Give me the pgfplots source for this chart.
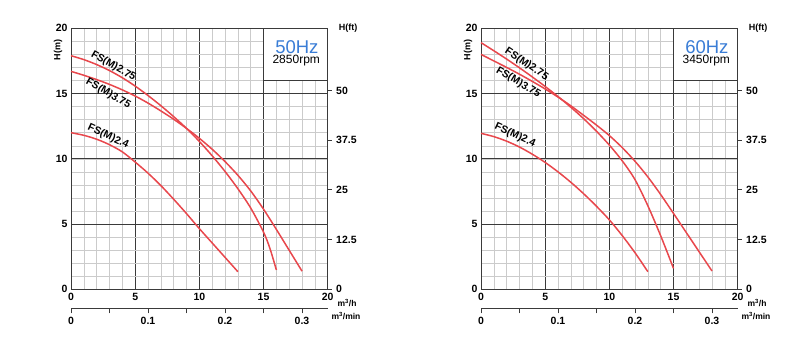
\documentclass[border=0pt]{standalone}
\usepackage{fontspec}
\setmainfont{Liberation Sans}
\usepackage{pgfplots}
\pgfplotsset{compat=1.18}
\definecolor{curve}{HTML}{E8474C}
\definecolor{hzblue}{HTML}{3A7DD6}
\definecolor{majgrid}{HTML}{3A3A3A}
\definecolor{mingrid}{HTML}{CBCBCB}
\newcommand{\tl}{\fontsize{10.5}{12}\selectfont\bfseries}
\pgfplotsset{
  pumpmain/.style={scale only axis, width=256.7pt, height=261pt, anchor=south west,
    xmin=0, xmax=20, ymin=0, ymax=20,
    xtick={0,5,...,20}, ytick={0,5,...,20},
    minor xtick={0,1,...,20}, minor ytick={0,1,...,20},
    grid=both, major grid style={majgrid, line width=0.9pt},
    minor grid style={mingrid, line width=0.5pt},
    major tick length=0pt, minor tick length=0pt,
    axis line style={majgrid, line width=1pt},
    ticklabel style={font=\tl},
    /pgf/number format/assume math mode=true,
    clip=false},
  ftaxis/.style={scale only axis, width=256.7pt, height=261pt, anchor=south west,
    xmin=0, xmax=20, ymin=0, ymax=65.6168,
    axis x line=none, axis y line*=right, y axis line style={draw=none},
    ytick={0,12.5,25,37.5,50}, yticklabels={0,12.5,25,37.5,50},
    tick align=outside, major tick length=4pt,
    tick style={majgrid, line width=0.8pt},
    ticklabel style={font=\tl}, yticklabel style={xshift=1pt},
    /pgf/number format/assume math mode=true},
  minaxis/.style={scale only axis, width=256.7pt, height=8pt, anchor=south west,
    xmin=0, xmax=0.333333, ymin=0, ymax=1,
    axis y line=none, axis x line*=bottom,
    x axis line style={-, majgrid, line width=0.9pt},
    xtick={0,0.1,0.2,0.3}, xticklabels={0,0.1,0.2,0.3},
    minor xtick={0.05,0.15,0.25},
    tick align=outside, major tick length=5pt, minor tick length=5pt,
    tick style={majgrid, line width=0.8pt},
    ticklabel style={font=\tl},
    /pgf/number format/assume math mode=true},
  crv/.style={curve, line width=1.5pt, smooth},
}
\newcommand{\lbl}{\fontsize{10.5}{12}\selectfont\bfseries}
\begin{document}
\begin{tikzpicture}
\useasboundingbox (0,0) rectangle (800pt,354pt);
% ---------------- 50 Hz ----------------
\begin{axis}[pumpmain, at={(71pt,64.7pt)}]
% FS(M)2.75
\addplot[crv] coordinates {(0,17.9) (1,17.6) (2,17.22) (3,16.76) (4,16.21) (5,15.57) (6,14.85) (7,14.07) (8,13.23) (9,12.33) (10,11.33) (11,10.23) (12,9.03) (13,7.71) (14,6.23) (15,4.38) (15.5,3.13) (16,1.48)};
% FS(M)3.75
\addplot[crv] coordinates {(0,16.7) (1,16.4) (2,16.07) (3,15.7) (4,15.28) (5,14.81) (6,14.27) (7,13.67) (8,13.03) (9,12.33) (10,11.57) (11,10.73) (12,9.79) (13,8.74) (14,7.54) (15,6.14) (16,4.59) (17,2.99) (18,1.39)};
% FS(M)2.4
\addplot[crv] coordinates {(0,12.0) (1,11.8) (2,11.5) (3,11.08) (4,10.53) (5,9.75) (6,8.9) (7,7.95) (8,6.9) (9,5.8) (10,4.65) (11,3.55) (12,2.45) (13,1.35)};
\fill[white] (axis cs:15,16) rectangle (axis cs:20,20);
\draw[majgrid, line width=0.9pt] (axis cs:15,16) rectangle (axis cs:20,20);
\node[text=hzblue, font=\fontsize{18.5}{20}\selectfont] at (axis cs:17.6,18.55) {50Hz};
\node[font=\fontsize{12}{14}\selectfont] at (axis cs:17.55,17.55) {2850rpm};
\node[font=\lbl, rotate=-30] at (axis cs:3.3,17.1) {FS(M)2.75};
\node[font=\lbl, rotate=-30] at (axis cs:2.9,15.0) {FS(M)3.75};
\node[font=\lbl, rotate=-25] at (axis cs:2.9,11.7) {FS(M)2.4};
\end{axis}
\begin{axis}[ftaxis, at={(71pt,64.7pt)}]
\end{axis}
\begin{axis}[minaxis, at={(71pt,45.7pt)}]
\end{axis}
\node[font=\fontsize{9}{10}\selectfont\bfseries, rotate=90] at (58pt,304pt) {H(m)};
\node[font=\fontsize{9}{10}\selectfont\bfseries] at (348pt,326pt) {H(ft)};
\node[font=\fontsize{8.5}{10}\selectfont\bfseries] at (347pt,51pt) {m\textsuperscript{3}/h};
\node[font=\fontsize{8.5}{10}\selectfont\bfseries] at (346pt,38pt) {m\textsuperscript{3}/min};
% ---------------- 60 Hz ----------------
\begin{axis}[pumpmain, at={(481pt,64.7pt)}]
% FS(M)2.75
\addplot[crv] coordinates {(0,18.9) (1,18.28) (2,17.64) (3,16.97) (4,16.27) (5,15.54) (6,14.77) (7,13.95) (8,13.07) (9,12.11) (10,11.05) (11,9.85) (12,8.4) (13,6.4) (14,4.1) (15,1.6)};
% FS(M)3.75
\addplot[crv] coordinates {(0,18.0) (1,17.5) (2,17.0) (3,16.48) (4,15.93) (5,15.35) (6,14.73) (7,14.06) (8,13.33) (9,12.58) (10,11.78) (11,10.86) (12,9.81) (13,8.61) (14,7.26) (15,5.81) (16,4.34) (17,2.87) (18,1.4)};
% FS(M)2.4
\addplot[crv] coordinates {(0,11.95) (1,11.7) (2,11.35) (3,10.9) (4,10.35) (5,9.72) (6,9.0) (7,8.2) (8,7.32) (9,6.36) (10,5.32) (11,4.12) (12,2.8) (13,1.35)};
\fill[white] (axis cs:15,16) rectangle (axis cs:20,20);
\draw[majgrid, line width=0.9pt] (axis cs:15,16) rectangle (axis cs:20,20);
\node[text=hzblue, font=\fontsize{18.5}{20}\selectfont] at (axis cs:17.6,18.55) {60Hz};
\node[font=\fontsize{12}{14}\selectfont] at (axis cs:17.55,17.55) {3450rpm};
\node[font=\lbl, rotate=-34] at (axis cs:3.55,17.25) {FS(M)2.75};
\node[font=\lbl, rotate=-31] at (axis cs:2.9,15.85) {FS(M)3.75};
\node[font=\lbl, rotate=-25] at (axis cs:2.65,11.8) {FS(M)2.4};
\end{axis}
\begin{axis}[ftaxis, at={(481pt,64.7pt)}]
\end{axis}
\begin{axis}[minaxis, at={(481pt,45.7pt)}]
\end{axis}
\node[font=\fontsize{9}{10}\selectfont\bfseries, rotate=90] at (468pt,304pt) {H(m)};
\node[font=\fontsize{9}{10}\selectfont\bfseries] at (758pt,326pt) {H(ft)};
\node[font=\fontsize{8.5}{10}\selectfont\bfseries] at (757pt,51pt) {m\textsuperscript{3}/h};
\node[font=\fontsize{8.5}{10}\selectfont\bfseries] at (756pt,38pt) {m\textsuperscript{3}/min};
\end{tikzpicture}
\end{document}
